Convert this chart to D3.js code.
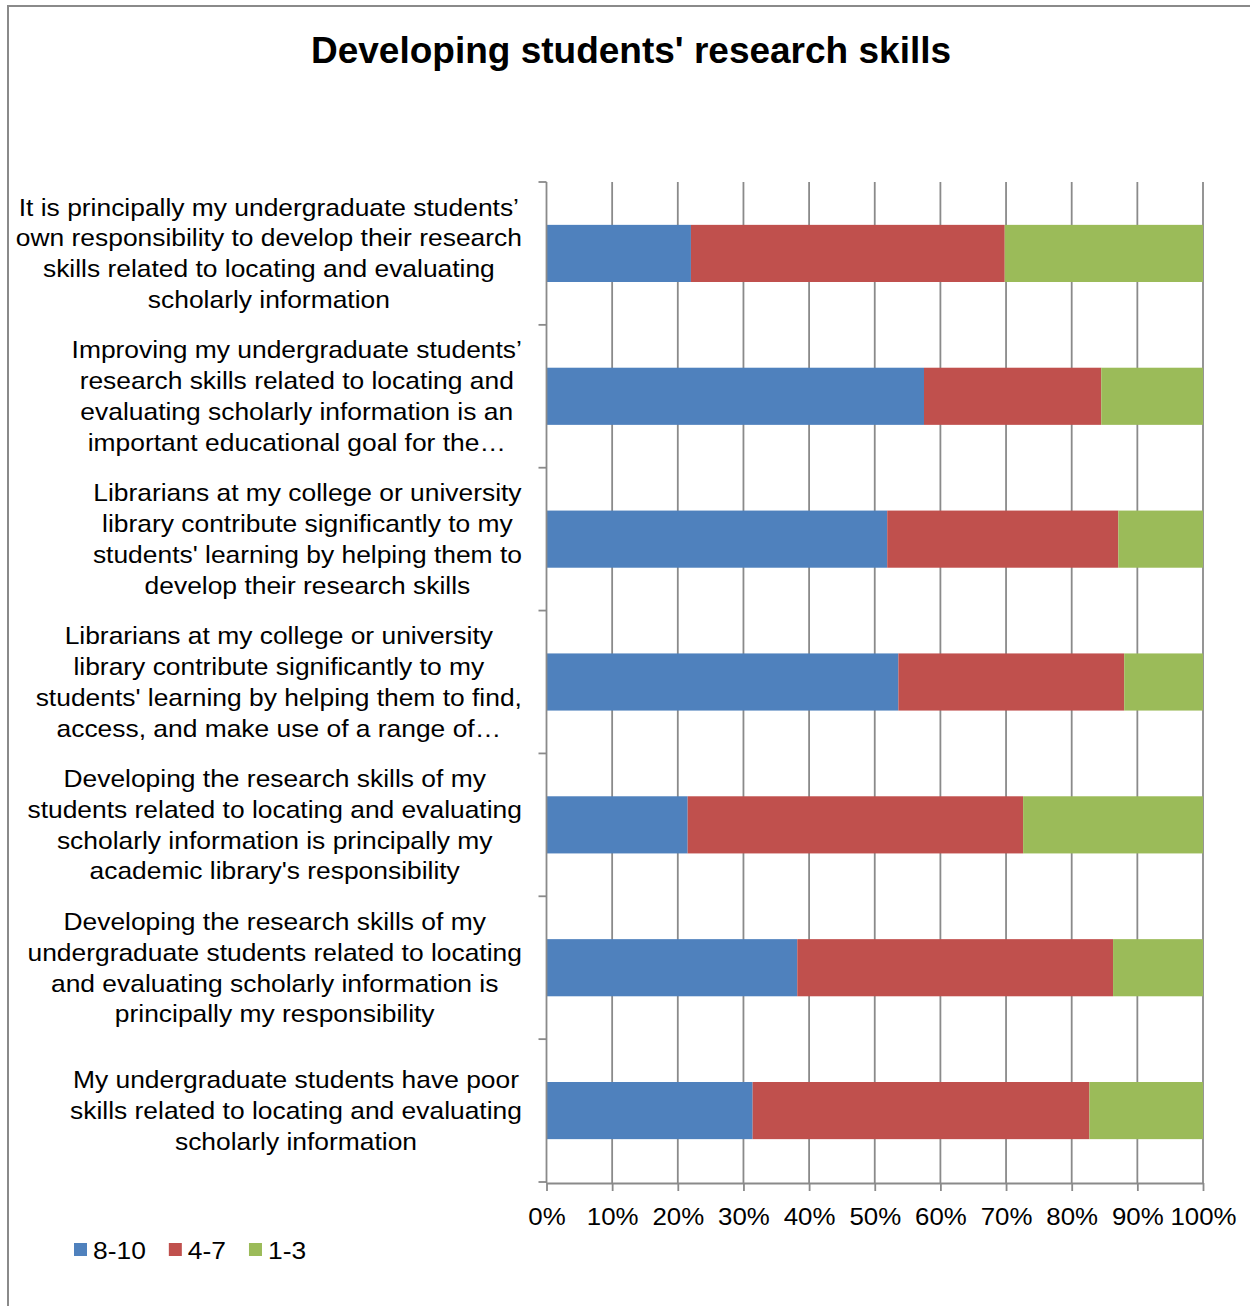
<!DOCTYPE html>
<html>
<head>
<meta charset="utf-8">
<script src="https://cdn.jsdelivr.net/npm/d3@7"></script>
<style>
  body { margin: 0; background: #fff; }
  text { font-family: "Liberation Sans", Arial, sans-serif; fill: #000; }
</style>
</head>
<body>
<div id="chart"></div>
<script>
var width = 1250,
  height = 1306;

// categories, top to bottom, already split into the lines shown
var categories = [
  ["It is principally my undergraduate students\u2019", "own responsibility to develop their research", "skills related to locating and evaluating", "scholarly information"],
  ["Improving my undergraduate students\u2019", "research skills related to locating and", "evaluating scholarly information is an", "important educational goal for the\u2026"],
  ["Librarians at my college or university", "library contribute significantly to my", "students' learning by helping them to", "develop their research skills"],
  ["Librarians at my college or university", "library contribute significantly to my", "students' learning by helping them to find,", "access, and make use of a range of\u2026"],
  ["Developing the research skills of my", "students related to locating and evaluating", "scholarly information is principally my", "academic library's responsibility"],
  ["Developing the research skills of my", "undergraduate students related to locating", "and evaluating scholarly information is", "principally my responsibility"],
  ["My undergraduate students have poor", "skills related to locating and evaluating", "scholarly information"]
];

var seriesNames = ["8-10", "4-7", "1-3"];
var seriesColors = ["#4F81BD", "#C0504D", "#9BBB59"];

var high = [22.0, 57.5, 51.9, 53.6, 21.5, 38.2, 31.4];
var mid = [47.8, 27.0, 35.2, 34.4, 51.1, 48.1, 51.3];
var low = [30.2, 15.5, 12.9, 12.0, 27.4, 13.7, 17.3];

var xTicks = [0, 10, 20, 30, 40, 50, 60, 70, 80, 90, 100];

// the original body text is a bit wider than Arial
var stretch = 1.1;

var svg = d3.select("#chart").append("svg")
  .attr("width", width)
  .attr("height", height);

// outer frame
svg.append("rect")
  .attr("x", 8)
  .attr("y", 6)
  .attr("width", width + 10)
  .attr("height", height + 10)
  .attr("fill", "none")
  .attr("stroke", "#8a8a8a")
  .attr("stroke-width", 2);

svg.append("text")
  .attr("x", 631)
  .attr("y", 63)
  .attr("text-anchor", "middle")
  .style("font-size", "37px")
  .style("font-weight", "bold")
  .text("Developing students' research skills");

var x = d3.scaleLinear()
  .domain([0, 100])
  .range([546.5, 1203]);

var ids = d3.range(categories.length);
var y = d3.scaleBand()
  .domain(ids)
  .range([182, 1182])
  .padding(0);

var step = y.step();
var barH = step * 0.4;

// gridlines
svg.append("g")
  .selectAll("line")
  .data(xTicks.slice(1))
  .join("line")
    .attr("x1", function(d) { return x(d); })
    .attr("x2", function(d) { return x(d); })
    .attr("y1", 182)
    .attr("y2", 1183)
    .attr("stroke", "#8a8a8a")
    .attr("stroke-width", 1.8);

// stacked bars
var rows = ids.map(function(i) {
  return { id: i, "8-10": high[i], "4-7": mid[i], "1-3": low[i] };
});
var stacked = d3.stack().keys(seriesNames)(rows);

svg.append("g")
  .selectAll("g")
  .data(stacked)
  .join("g")
    .attr("fill", function(d, i) { return seriesColors[i]; })
  .selectAll("rect")
  .data(function(d) { return d; })
  .join("rect")
    .attr("x", function(d) { return x(d[0]); })
    .attr("width", function(d) { return x(d[1]) - x(d[0]); })
    .attr("y", function(d) { return y(d.data.id) + step * 0.3; })
    .attr("height", barH);

// left axis line and ticks at band boundaries
var bounds = ids.map(function(i) { return y(i); }).concat([y.range()[1]]);
svg.append("line")
  .attr("x1", x(0)).attr("x2", x(0))
  .attr("y1", 182).attr("y2", 1183)
  .attr("stroke", "#8a8a8a")
  .attr("stroke-width", 1.8);
svg.append("g")
  .selectAll("line")
  .data(bounds)
  .join("line")
    .attr("x1", x(0) - 8)
    .attr("x2", x(0))
    .attr("y1", function(d) { return d; })
    .attr("y2", function(d) { return d; })
    .attr("stroke", "#8a8a8a")
    .attr("stroke-width", 1.8);

// bottom axis
var xAxis = svg.append("g")
  .attr("transform", "translate(0,1183)")
  .call(d3.axisBottom(x)
    .tickValues(xTicks)
    .tickSize(8)
    .tickSizeOuter(0)
    .tickPadding(17)
    .tickFormat(function(d) { return d + "%"; }));
xAxis.select(".domain").attr("stroke", "#8a8a8a").attr("stroke-width", 1.8);
xAxis.selectAll(".tick line").attr("stroke", "#8a8a8a").attr("stroke-width", 1.8);
xAxis.selectAll(".tick text")
  .attr("transform", "scale(" + stretch + ",1)")
  .style("font-size", "23.5px")
  .style("font-family", "'Liberation Sans', Arial, sans-serif")
  .attr("fill", "#000");

// category labels: centred lines, block right edge near the axis
var lineH = 30.8;
var labels = svg.append("g")
  .selectAll("text")
  .data(ids)
  .join("text")
    .style("font-size", "24px")
    .attr("text-anchor", "middle");

labels.each(function(i) {
  var t = d3.select(this);
  var lines = categories[i];
  var cy = y(i) + step / 2;
  var top = cy - (lines.length - 1) * lineH / 2;
  lines.forEach(function(l, k) {
    t.append("tspan")
      .attr("x", 0)
      .attr("y", top + k * lineH)
      .attr("dy", "0.35em")
      .text(l);
  });
  var maxW = 0;
  t.selectAll("tspan").each(function() {
    maxW = Math.max(maxW, this.getComputedTextLength());
  });
  t.attr("transform", "translate(" + (522 - maxW * stretch / 2) + ",0) scale(" + stretch + ",1)");
});

// legend
var lx = 74;
seriesNames.forEach(function(name, i) {
  svg.append("rect")
    .attr("x", lx)
    .attr("y", 1243)
    .attr("width", 13)
    .attr("height", 13)
    .attr("fill", seriesColors[i]);
  var t = svg.append("text")
    .attr("transform", "translate(" + (lx + 19) + ",1259) scale(" + stretch + ",1)")
    .style("font-size", "24px")
    .text(name);
  lx += 19 + t.node().getComputedTextLength() * stretch + 23;
});
</script>
</body>
</html>
